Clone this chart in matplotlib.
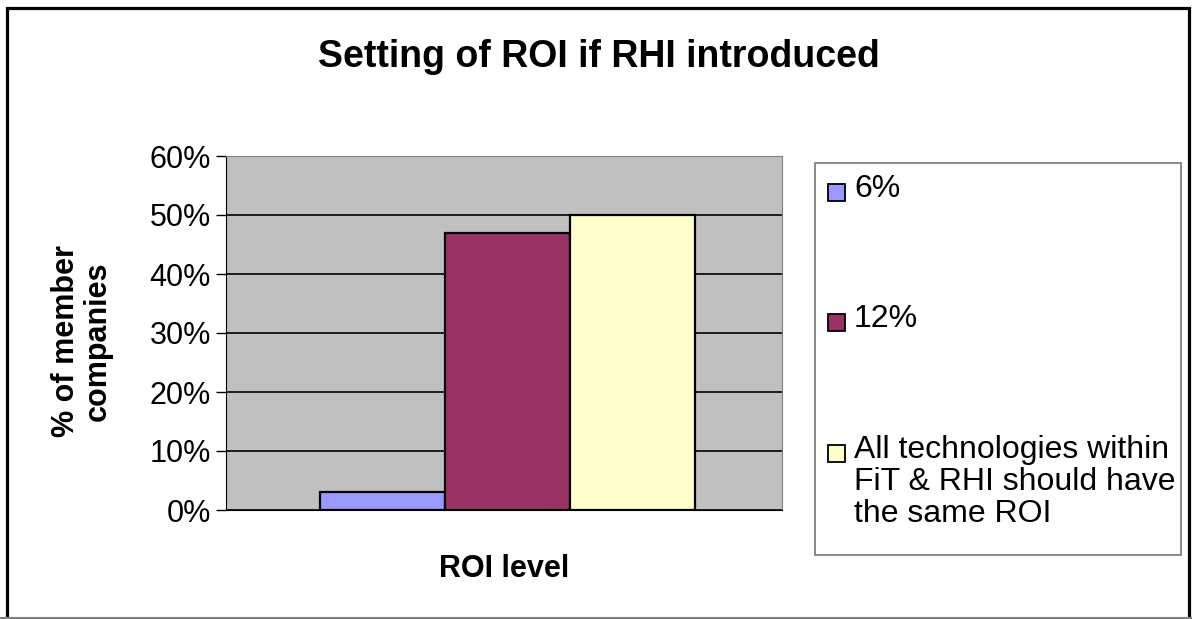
import numpy as np
import matplotlib.pyplot as plt
from matplotlib.patches import Rectangle
from matplotlib.lines import Line2D

plt.rcParams['font.family'] = ['Liberation Sans', 'DejaVu Sans']

# Data
series = ['6%', '12%', 'All technologies within\nFiT & RHI should have\nthe same ROI']
values = [3, 47, 50]
colors = ['#9999FF', '#993366', '#FFFFCC']
yticks = [0, 10, 20, 30, 40, 50, 60]

W, H = 1192, 619
fig = plt.figure(figsize=(W / 100, H / 100), dpi=100)


def px(x, y):
    # pixel position (top-left origin) -> figure fraction
    return x / W, 1 - y / H


ax = fig.add_axes([226 / W, 1 - 510 / H, 556 / W, 354 / H])

# outer chart border (bottom edge runs off the picture)
fig.patches.append(Rectangle(px(7, 640), 1182 / W, 632 / H, transform=fig.transFigure,
                             fill=False, edgecolor='black', linewidth=2.3))
fig.lines.append(Line2D([0, 1], [0.001, 0.001], transform=fig.transFigure,
                        color='#808080', linewidth=1.5))

ax.set_facecolor('#C0C0C0')
pos = np.arange(len(values)) - 1
for p, v, c, s in zip(pos, values, colors, series):
    ax.bar(p, v, width=1.0, color=c, edgecolor='black', linewidth=1.6, label=s, zorder=3)

ax.set_ylim(0, 60)
ax.set_xlim(-2.252, 2.196)
ax.set_yticks(yticks)
ax.set_yticklabels([f'{t}%' for t in yticks], fontsize=22)
ax.yaxis.grid(True, color='black', linewidth=1.2, zorder=1)
ax.set_xticks([])
ax.tick_params(axis='y', direction='out', length=7, width=1, pad=4)
for s in ['top', 'right']:
    ax.spines[s].set_color('#808080')
for s in ['left', 'bottom']:
    ax.spines[s].set_color('black')

ax.set_xlabel('ROI level', fontsize=22, fontweight='bold')
ax.xaxis.set_label_coords(0.5, -0.125)
ax.set_ylabel('% of member\ncompanies', fontsize=22, fontweight='bold', linespacing=1.1)
ax.yaxis.set_label_coords(-0.203, 0.477)

fig.text(*px(599, 57), 'Setting of ROI if RHI introduced', fontsize=27, fontweight='bold',
         ha='center', va='center')

# legend drawn by hand so the handle sits beside the first line of the long entry
fig.patches.append(Rectangle(px(815, 555), 366 / W, 392 / H, transform=fig.transFigure,
                             facecolor='white', edgecolor='#808080', linewidth=1.3))
entry_y = [192, 322, 453]
for y, c, s in zip(entry_y, colors, series):
    fig.patches.append(Rectangle(px(828, y + 9), 17 / W, 17 / H, transform=fig.transFigure,
                                 facecolor=c, edgecolor='black', linewidth=1.3))
    fig.text(*px(854, y - 18), s, fontsize=23, ha='left', va='top', linespacing=1.08)

fig.savefig('out.png', dpi=100)
